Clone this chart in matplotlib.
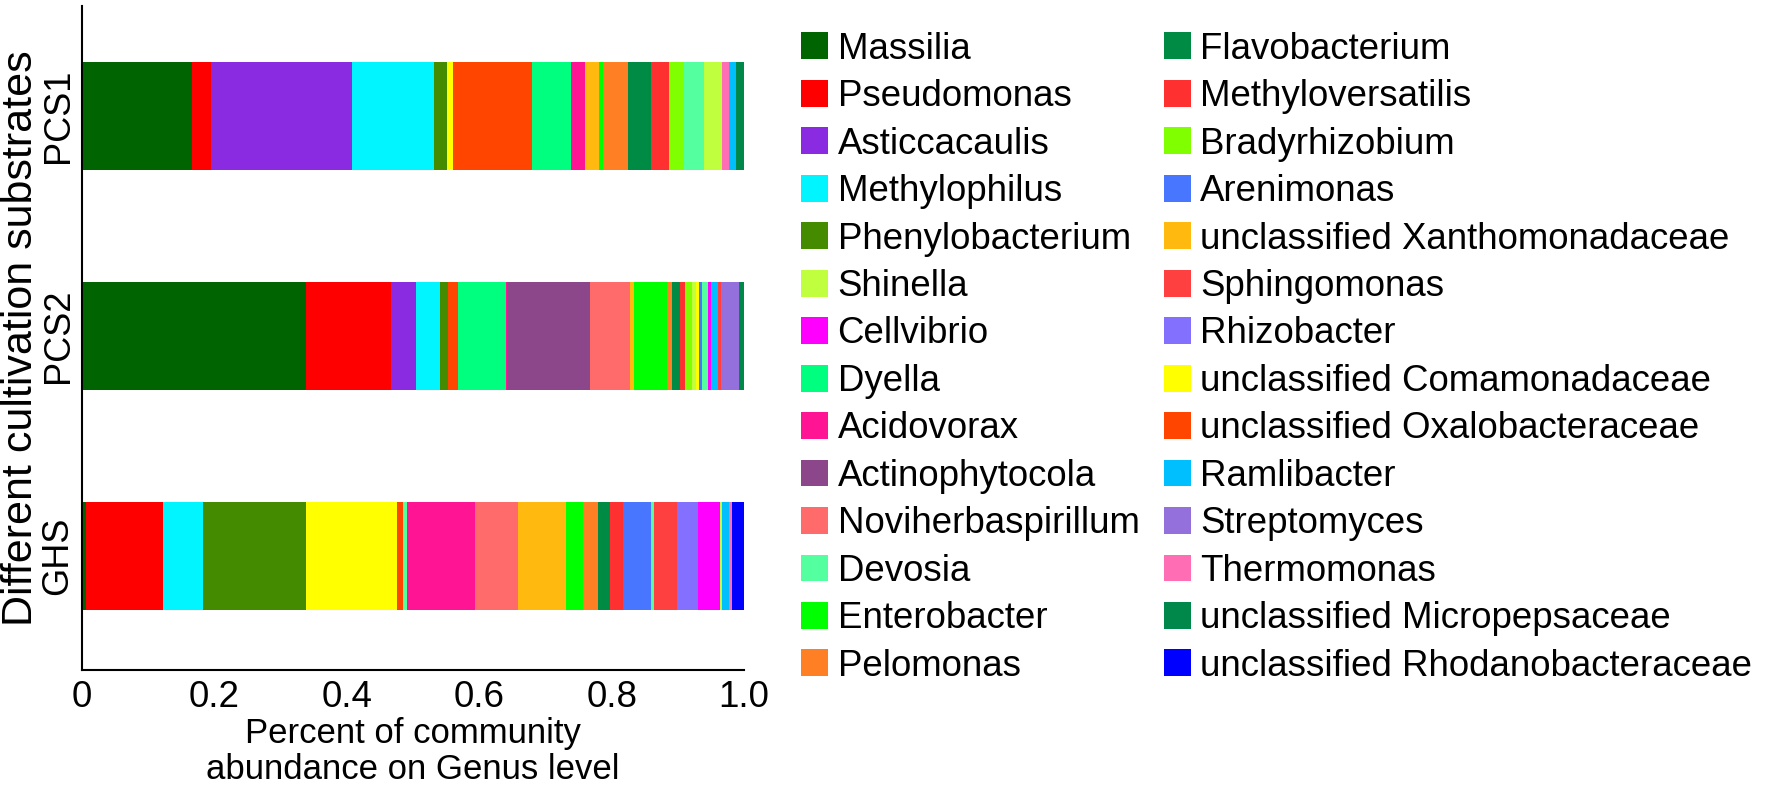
import matplotlib
matplotlib.use("Agg")
import matplotlib.pyplot as plt
from matplotlib.patches import Patch

plt.rcParams['font.family'] = ['Liberation Sans', 'DejaVu Sans']

genera = ["Massilia", "Pseudomonas", "Asticcacaulis", "Methylophilus", "Phenylobacterium",
          "Shinella", "Cellvibrio", "Dyella", "Acidovorax", "Actinophytocola",
          "Noviherbaspirillum", "Devosia", "Enterobacter", "Pelomonas",
          "Flavobacterium", "Methyloversatilis", "Bradyrhizobium", "Arenimonas",
          "unclassified Xanthomonadaceae", "Sphingomonas", "Rhizobacter",
          "unclassified Comamonadaceae", "unclassified Oxalobacteraceae", "Ramlibacter",
          "Streptomyces", "Thermomonas", "unclassified Micropepsaceae",
          "unclassified Rhodanobacteraceae"]
colors = ["#006400", "#FF0000", "#8A2BE2", "#00F5FF", "#458B00",
          "#C0FF3E", "#FF00FF", "#00FF7F", "#FF1493", "#8B4789",
          "#FF6A6A", "#54FF9F", "#00FF00", "#FF7F24",
          "#008B45", "#FF3030", "#7FFF00", "#4876FF",
          "#FFB90F", "#FF4040", "#8470FF",
          "#FFFF00", "#FF4500", "#00BFFF",
          "#9370DB", "#FF6EB4", "#00884A",
          "#0000FF"]

samples = ["PCS1", "PCS2", "GHS"]

pcs1_genera = ["Massilia", "Pseudomonas", "Asticcacaulis", "Methylophilus", "Phenylobacterium",
               "unclassified Comamonadaceae", "unclassified Oxalobacteraceae", "Dyella",
               "Acidovorax", "unclassified Xanthomonadaceae", "Enterobacter", "Pelomonas",
               "Flavobacterium", "Methyloversatilis", "Bradyrhizobium", "Devosia", "Shinella",
               "Thermomonas", "Ramlibacter", "unclassified Micropepsaceae"]
pcs1_values = [0.166, 0.029, 0.213, 0.124, 0.019,
               0.009, 0.119, 0.060,
               0.020, 0.022, 0.006, 0.037,
               0.036, 0.027, 0.023, 0.030, 0.026,
               0.012, 0.010, 0.012]

pcs2_genera = ["Massilia", "Pseudomonas", "Asticcacaulis", "Methylophilus", "Phenylobacterium",
               "unclassified Oxalobacteraceae", "Dyella", "Acidovorax", "Actinophytocola",
               "Noviherbaspirillum", "unclassified Xanthomonadaceae", "Enterobacter", "Pelomonas",
               "Flavobacterium", "Methyloversatilis", "Bradyrhizobium", "Shinella",
               "unclassified Comamonadaceae", "Arenimonas", "Devosia", "Cellvibrio",
               "Ramlibacter", "Sphingomonas", "Streptomyces", "unclassified Micropepsaceae"]
pcs2_values = [0.339, 0.128, 0.038, 0.036, 0.012,
               0.015, 0.072, 0.002, 0.125,
               0.060, 0.006, 0.051, 0.007,
               0.012, 0.008, 0.010, 0.006,
               0.005, 0.005, 0.008, 0.005,
               0.010, 0.005, 0.028, 0.008]

ghs_genera = ["Massilia", "Pseudomonas", "Methylophilus", "Phenylobacterium",
              "unclassified Comamonadaceae", "unclassified Oxalobacteraceae", "Devosia",
              "Acidovorax", "Noviherbaspirillum", "unclassified Xanthomonadaceae",
              "Enterobacter", "Pelomonas", "Flavobacterium", "Methyloversatilis",
              "Arenimonas", "Devosia", "Sphingomonas", "Rhizobacter", "Cellvibrio",
              "Shinella", "Ramlibacter", "Thermomonas", "unclassified Rhodanobacteraceae"]
ghs_values = [0.006, 0.117, 0.060, 0.155,
              0.137, 0.010, 0.006,
              0.103, 0.064, 0.073,
              0.026, 0.023, 0.018, 0.019,
              0.042, 0.005, 0.034, 0.033, 0.032,
              0.004, 0.011, 0.004, 0.019]

xticks = [0, 0.2, 0.4, 0.6, 0.8, 1.0]
xtick_labels = ["0", "0.2", "0.4", "0.6", "0.8", "1.0"]

color_of = dict(zip(genera, colors))

fig = plt.figure(figsize=(17.72, 8.01), dpi=100)
ax = fig.add_axes([0.0463, 0.1635, 0.3736, 0.829])

rows = [(pcs1_genera, pcs1_values), (pcs2_genera, pcs2_values), (ghs_genera, ghs_values)]
ypos = [2, 1, 0]
for (gs, vs), y in zip(rows, ypos):
    left = 0.0
    for g, v in zip(gs, vs):
        ax.barh(y, v, left=left, height=0.49, color=color_of[g], edgecolor='none')
        left += v

ax.set_xlim(0, 1.0)
ax.set_ylim(-0.52, 2.5)
ax.set_yticks(ypos)
ax.set_yticklabels(samples, rotation=90, va='center', fontsize=26)
ax.set_xticks(xticks)
ax.set_xticklabels(xtick_labels, fontsize=26.5)
ax.tick_params(axis='y', length=0, pad=4.7)
ax.tick_params(axis='x', length=0, pad=7)
for s in ['top', 'right']:
    ax.spines[s].set_visible(False)
for s in ['left', 'bottom']:
    ax.spines[s].set_linewidth(1.5)
    ax.spines[s].set_color('black')

ax.set_xlabel("Percent of community\nabundance on Genus level", fontsize=25,
              linespacing=1.13, labelpad=1.5)
ax.set_ylabel("Different cultivation substrates", fontsize=31)
ax.yaxis.set_label_coords(-0.0618, 0.5)

handles = [Patch(facecolor=c, edgecolor='none') for c in colors]
fig.legend(handles, genera, loc='upper left', bbox_to_anchor=(0.452, 0.9605),
           ncol=2, frameon=False, fontsize=26.4, borderpad=0, borderaxespad=0,
           handlelength=0.75, handleheight=0.75, handletextpad=0.25,
           columnspacing=0.66, labelspacing=0.34)

fig.savefig("out.png", dpi=100)
